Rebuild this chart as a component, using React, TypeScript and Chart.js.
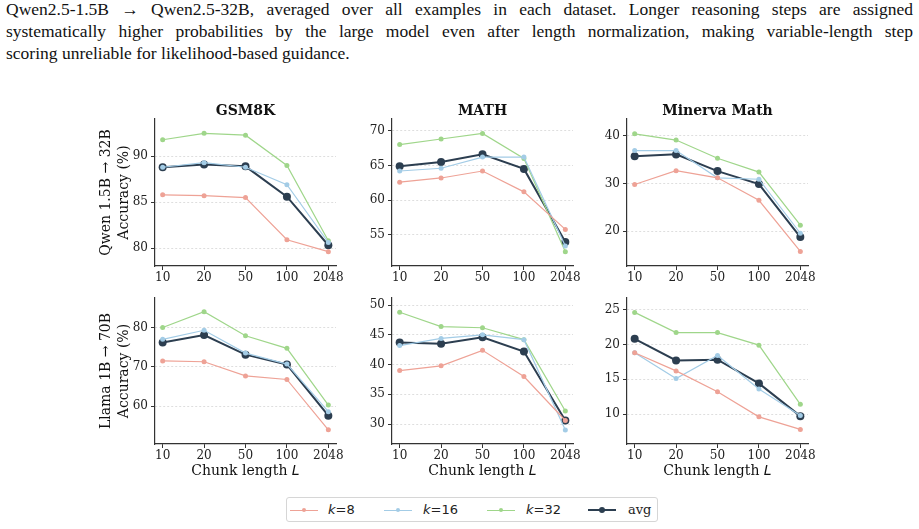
import React, { useEffect, useRef } from 'react';
import { Chart, registerables } from 'chart.js';

Chart.register(...registerables);

// ---------- data ----------
const chunkLabels = ['10', '20', '50', '100', '2048'];
const datasetTitles = ['GSM8K', 'MATH', 'Minerva Math'];
const rowModelLabels = ['Qwen 1.5B → 32B', 'Llama 1B → 70B'];
const seriesNames = ['k=8', 'k=16', 'k=32', 'avg'];

// Qwen 1.5B -> 32B
const qwenGsm8kK8 = [85.8, 85.7, 85.5, 80.9, 79.6];
const qwenGsm8kK16 = [88.8, 89.3, 88.8, 86.9, 80.6];
const qwenGsm8kK32 = [91.8, 92.5, 92.3, 89.0, 80.8];
const qwenGsm8kAvg = [88.8, 89.1, 88.9, 85.6, 80.3];

const qwenMathK8 = [62.6, 63.2, 64.2, 61.2, 55.8];
const qwenMathK16 = [64.2, 64.6, 66.2, 66.2, 53.4];
const qwenMathK32 = [68.0, 68.8, 69.6, 66.0, 52.6];
const qwenMathAvg = [64.9, 65.5, 66.6, 64.5, 54.0];

const qwenMinervaK8 = [29.8, 32.7, 31.2, 26.5, 15.8];
const qwenMinervaK16 = [36.9, 36.9, 31.2, 30.9, 19.6];
const qwenMinervaK32 = [40.4, 39.1, 35.3, 32.4, 21.3];
const qwenMinervaAvg = [35.7, 36.1, 32.6, 29.9, 18.8];

// Llama 1B -> 70B
const llamaGsm8kK8 = [71.5, 71.3, 67.7, 66.8, 54.0];
const llamaGsm8kK16 = [77.0, 79.3, 73.5, 70.7, 58.6];
const llamaGsm8kK32 = [80.0, 84.0, 77.9, 74.7, 60.3];
const llamaGsm8kAvg = [76.2, 78.1, 73.1, 70.6, 57.6];

const llamaMathK8 = [39.0, 39.8, 42.4, 38.0, 30.6];
const llamaMathK16 = [43.2, 44.4, 45.0, 44.2, 29.0];
const llamaMathK32 = [48.8, 46.4, 46.2, 44.2, 32.2];
const llamaMathAvg = [43.7, 43.5, 44.6, 42.2, 30.6];

const llamaMinervaK8 = [18.8, 16.2, 13.2, 9.6, 7.8];
const llamaMinervaK16 = [18.8, 15.1, 18.4, 13.6, 9.8];
const llamaMinervaK32 = [24.6, 21.7, 21.7, 19.9, 11.4];
const llamaMinervaAvg = [20.8, 17.7, 17.8, 14.4, 9.7];

// axis ranges and ticks
const yRanges = [
  [[78.04, 94.06], [50.54, 71.68], [12.75, 43.5]],
  [[50.4, 87.5], [26.65, 51.2], [5.7, 26.67]],
];
const yTickValues = [
  [[80, 85, 90], [55, 60, 65, 70], [20, 30, 40]],
  [[60, 70, 80], [30, 35, 40, 45, 50], [10, 15, 20, 25]],
];

const panelSeries = [
  [
    [qwenGsm8kK8, qwenGsm8kK16, qwenGsm8kK32, qwenGsm8kAvg],
    [qwenMathK8, qwenMathK16, qwenMathK32, qwenMathAvg],
    [qwenMinervaK8, qwenMinervaK16, qwenMinervaK32, qwenMinervaAvg],
  ],
  [
    [llamaGsm8kK8, llamaGsm8kK16, llamaGsm8kK32, llamaGsm8kAvg],
    [llamaMathK8, llamaMathK16, llamaMathK32, llamaMathAvg],
    [llamaMinervaK8, llamaMinervaK16, llamaMinervaK32, llamaMinervaAvg],
  ],
];

// ---------- styles ----------
const seriesColors = ['#eea296', '#a3cce6', '#9fd68a', '#2c3e50'];
const seriesWidths = [1.2, 1.2, 1.2, 2];
const seriesRadius = [2.5, 2.5, 2.5, 4];

const areaLefts = [155, 392, 627];
const areaWidth = 181;
const rowTops = [119, 298];
const areaHeights = [147, 146];
const Y_W = 70;
const X_H = 45;
const TOP_PAD = 30;
const RIGHT_PAD = 16;
const SERIF = "'DejaVu Serif', serif";
const SANS = "'DejaVu Sans', sans-serif";

function Panel({ row, col }: { row: number; col: number }) {
  const ref = useRef<HTMLCanvasElement | null>(null);
  const left = areaLefts[col] - Y_W;
  const top = rowTops[row] - TOP_PAD;
  const width = Y_W + areaWidth + RIGHT_PAD;
  const height = TOP_PAD + areaHeights[row] + X_H;

  useEffect(() => {
    if (!ref.current) return;
    const series = panelSeries[row][col];
    const [yMin, yMax] = yRanges[row][col];
    const ticksY = yTickValues[row][col];
    const chart = new Chart(ref.current, {
      type: 'line',
      data: {
        datasets: series.map((vals, i) => ({
          label: seriesNames[i],
          data: vals.map((v, j) => ({ x: j, y: v })),
          borderColor: seriesColors[i],
          backgroundColor: seriesColors[i],
          pointBackgroundColor: seriesColors[i],
          pointBorderColor: seriesColors[i],
          pointBorderWidth: 0,
          borderWidth: seriesWidths[i],
          pointRadius: seriesRadius[i],
          tension: 0,
          fill: false,
        })),
      },
      options: {
        animation: false,
        responsive: false,
        maintainAspectRatio: false,
        layout: { padding: { left: 0, right: RIGHT_PAD, top: TOP_PAD, bottom: 0 } },
        plugins: {
          legend: { display: false },
          tooltip: { enabled: false },
          title: { display: false },
        },
        scales: {
          x: {
            type: 'linear',
            min: -0.185,
            max: 4.185,
            afterFit: (s: any) => { s.height = X_H; },
            afterBuildTicks: (s: any) => { s.ticks = chunkLabels.map((_, i) => ({ value: i })); },
            ticks: {
              callback: (v: any) => chunkLabels[Math.round(Number(v))] ?? '',
              font: { family: SERIF, size: 12 },
              color: '#222',
              padding: 1,
              maxRotation: 0,
              autoSkip: false,
            },
            grid: { drawOnChartArea: false, drawTicks: true, tickLength: 4, tickColor: '#333', tickWidth: 1 },
            border: { display: true, color: '#333', width: 1.2 },
          },
          y: {
            type: 'linear',
            min: yMin,
            max: yMax,
            afterFit: (s: any) => { s.width = Y_W; },
            afterBuildTicks: (s: any) => { s.ticks = ticksY.map((v) => ({ value: v })); },
            ticks: {
              font: { family: SERIF, size: 12 },
              color: '#222',
              padding: 3,
              autoSkip: false,
            },
            grid: {
              color: '#d6d6d6',
              lineWidth: 0.8,
              tickColor: '#333',
              tickWidth: 1,
              tickLength: 4,
              tickBorderDash: [],
            },
            border: { display: true, color: '#333', width: 1.2, dash: [2, 2] },
            title: {
              display: col === 0,
              text: [rowModelLabels[row], 'Accuracy (%)'],
              color: '#111',
              font: { family: SERIF, size: 14, lineHeight: '17.6px' as any },
              padding: { top: 12.9, bottom: 0 },
            },
          },
        },
      },
    } as any);
    return () => chart.destroy();
  }, [row, col]);

  return (
    <canvas
      ref={ref}
      width={width}
      height={height}
      style={{ position: 'absolute', left, top, width, height }}
    />
  );
}

function LegendLine({ x, color, lineW, dot }: { x: number; color: string; lineW: number; dot: number }) {
  return (
    <>
      <div style={{ position: 'absolute', left: x, top: 12.3 - lineW / 2, width: 28, height: lineW, background: color }} />
      <div style={{ position: 'absolute', left: x + 14 - dot / 2, top: 12.3 - dot / 2, width: dot, height: dot, borderRadius: '50%', background: color }} />
    </>
  );
}

const captionLines = [
  'Qwen2.5-1.5B → Qwen2.5-32B, averaged over all examples in each dataset. Longer reasoning steps are assigned',
  'systematically higher probabilities by the large model even after length normalization, making variable-length step',
  'scoring unreliable for likelihood-based guidance.',
];

export default function App() {
  const legendText = (x: number, node: React.ReactNode) => (
    <div style={{ position: 'absolute', left: x, top: 3, height: 18, lineHeight: '18px', fontSize: 13, color: '#222', whiteSpace: 'nowrap' }}>{node}</div>
  );
  const kLabel = (n: string) => (
    <span style={{ fontFamily: SANS }}><i>k</i>={n}</span>
  );
  return (
    <div style={{ position: 'fixed', left: 0, top: 0, width: 919, height: 529, background: '#fff', overflow: 'hidden' }}>
      {captionLines.map((t, i) => (
        <div
          key={i}
          style={{
            position: 'absolute',
            left: 6,
            top: -2.2 + i * 22,
            width: 907,
            fontFamily: "'Liberation Serif', serif",
            fontSize: 17.5,
            lineHeight: '22px',
            color: '#111',
            whiteSpace: 'nowrap',
            textAlign: i < 2 ? 'justify' : 'left',
            textAlignLast: i < 2 ? 'justify' : 'left',
          } as any}
        >
          {t}
        </div>
      ))}
      {[0, 1].map((r) => [0, 1, 2].map((c) => <Panel key={`${r}-${c}`} row={r} col={c} />))}
      {[0, 1, 2].map((c) => (
        <div
          key={`tt${c}`}
          style={{
            position: 'absolute',
            left: areaLefts[c] - 20,
            top: 100.7,
            width: areaWidth + 40,
            textAlign: 'center',
            fontFamily: SERIF,
            fontWeight: 'bold',
            fontSize: 14,
            lineHeight: '18px',
            color: '#111',
            whiteSpace: 'nowrap',
          }}
        >
          {datasetTitles[c]}
        </div>
      ))}
      {[0, 1, 2].map((c) => (
        <div
          key={`xl${c}`}
          style={{
            position: 'absolute',
            left: areaLefts[c],
            top: 462.2,
            width: areaWidth,
            textAlign: 'center',
            fontFamily: SERIF,
            fontSize: 14,
            lineHeight: '17px',
            color: '#111',
            whiteSpace: 'nowrap',
          }}
        >
          Chunk length <i style={{ fontFamily: SANS }}>L</i>
        </div>
      ))}
      <div
        style={{
          position: 'absolute',
          left: 286,
          top: 497,
          width: 370,
          height: 23,
          border: '1px solid #d6d6d6',
          borderRadius: 3,
          background: '#fff',
        }}
      >
        <LegendLine x={3} color={seriesColors[0]} lineW={1.3} dot={4} />
        {legendText(41, kLabel('8'))}
        <LegendLine x={97} color={seriesColors[1]} lineW={1.3} dot={4} />
        {legendText(136, kLabel('16'))}
        <LegendLine x={200} color={seriesColors[2]} lineW={1.3} dot={4} />
        {legendText(239, kLabel('32'))}
        <LegendLine x={301} color={seriesColors[3]} lineW={2} dot={6} />
        {legendText(341, <span style={{ fontFamily: SERIF }}>avg</span>)}
      </div>
    </div>
  );
}
